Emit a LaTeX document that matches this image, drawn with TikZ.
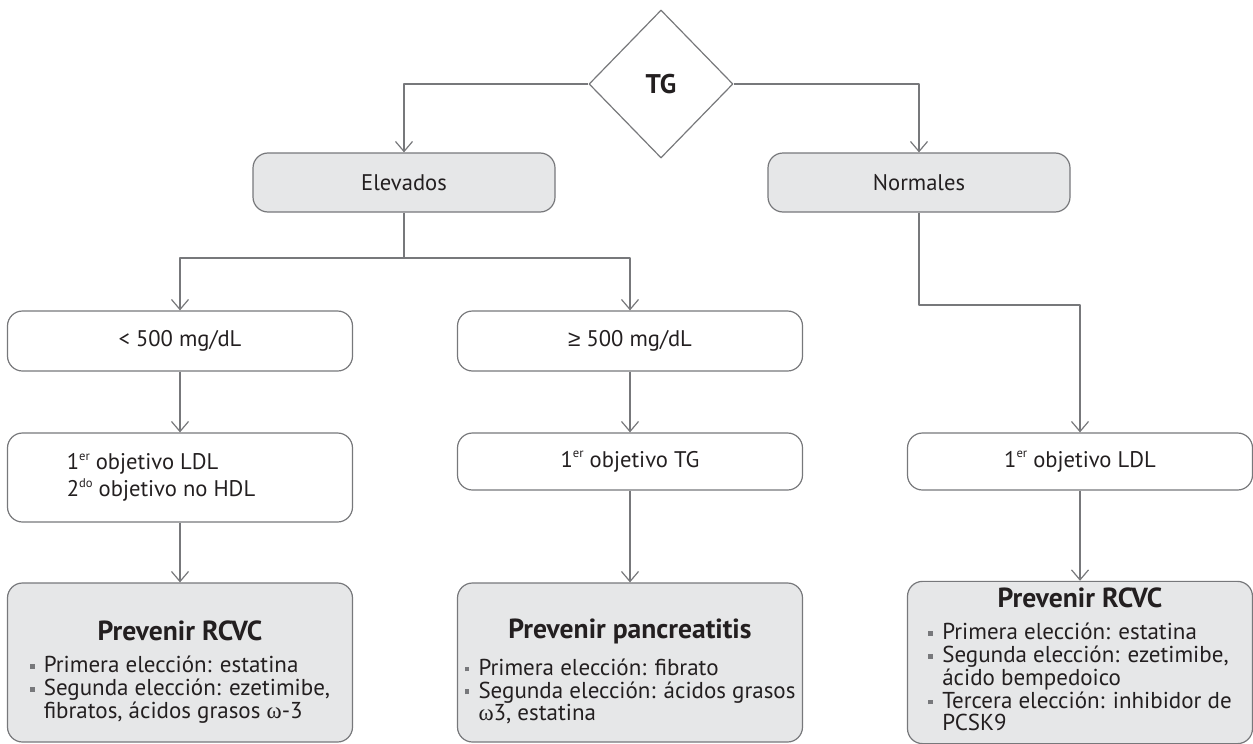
\documentclass[tikz,border=0pt]{standalone}
\usepackage{fontspec}
\setmainfont{PT Sans}
\newfontfamily\grk{Liberation Serif}
\newfontfamily\sym{Liberation Sans}
\usetikzlibrary{shapes.geometric,arrows.meta}
\definecolor{linegray}{HTML}{77787B}
\definecolor{boxgray}{HTML}{E6E7E8}
\definecolor{txt}{HTML}{231F20}
\newcommand{\bul}{\makebox[7pt][l]{\textcolor{linegray}{\raisebox{1.9pt}{\rule{2.4pt}{2.4pt}}}}}
\newcommand{\cont}{\hspace*{7pt}}
\newcommand{\ttl}[1]{{\fontsize{13.8}{15}\selectfont\bfseries #1}}
\newcommand{\om}{{\grk ω}}
\newcommand{\sups}[1]{\raisebox{0.85ex}{\fontsize{6.3}{6}\selectfont #1}}
\begin{document}
\begin{tikzpicture}[x=0.5pt,y=-0.5pt,>={Straight Barb[length=5pt,width=8.5pt]},line join=round,
	conn/.style={draw=linegray,line width=0.6pt},
	box/.style={draw=linegray,line width=0.6pt,rounded corners=7.5pt,minimum width=172.5pt,text=txt,font=\fontsize{11.3}{13.5}\selectfont},
	graybox/.style={box,fill=boxgray},
	pbox/.style={graybox,minimum height=79.5pt,align=center,font=\fontsize{11.5}{10.4}\selectfont}]
	\useasboundingbox (0,0) rectangle (1253,744);
	\node[diamond,draw=linegray,line width=0.6pt,minimum width=72pt,minimum height=74pt,inner sep=0pt,text=txt,font=\fontsize{13.5}{14}\selectfont\bfseries] (tg) at (661,84) {TG};
	\node[graybox,minimum width=151pt,minimum height=29.5pt] (elev) at (404,182.5) {Elevados};
	\node[graybox,minimum width=151pt,minimum height=29.5pt] (norm) at (919,182.5) {Normales};
	\node[box,minimum height=30pt] (lt) at (180,341) {< 500 mg/dL};
	\node[box,minimum height=30pt] (ge) at (630,341) {{\sym ≥} 500 mg/dL};
	\node[box,minimum height=44.5pt,align=left] (ldla) at (180,477.5) {1\sups{er} objetivo LDL\\2\sups{do} objetivo no HDL\hspace*{19pt}};
	\node[box,minimum height=28.5pt] (tga) at (630,461.5) {1\sups{er} objetivo TG};
	\node[box,minimum height=28.5pt] (ldlb) at (1080,461.5) {1\sups{er} objetivo LDL};
	\node[pbox] (rcva) at (180,662.5) {\rule{0pt}{20pt}\ttl{Prevenir RCVC}\\[6.5pt]
		\begin{tabular}{@{}l@{}}\bul Primera elección: estatina\\ \bul Segunda elección: ezetimibe,\\ \cont fibratos, ácidos grasos \om-3\end{tabular}};
	\node[pbox] (panc) at (630,662.5) {\rule{0pt}{20pt}\ttl{Prevenir pancreatitis}\\[6.5pt]
		\begin{tabular}{@{}l@{}}\bul Primera elección: fibrato\\ \bul Segunda elección: ácidos grasos\\ \cont \om3, estatina\end{tabular}};
	\node[pbox] (rcvb) at (1080,662.5) {\ttl{Prevenir RCVC}\\[6.5pt]
		\begin{tabular}{@{}l@{}}\bul Primera elección: estatina\\ \bul Segunda elección: ezetimibe,\\ \cont ácido bempedoico\\ \bul Tercera elección: inhibidor de\\ \cont PCSK9\end{tabular}};
	% connectors
	\coordinate (split) at (404,258);
	\coordinate (bend) at (919,305);
	\draw[conn,->] (tg.west) -| (elev.north);
	\draw[conn,->] (tg.east) -| (norm.north);
	\draw[conn] (elev.south) -- (split);
	\draw[conn,->] (split) -| (lt.north);
	\draw[conn,->] (split) -| (ge.north);
	\draw[conn,->] (norm.south) -- (bend) -| (ldlb.north);
	\foreach \a/\b in {lt/ldla,ge/tga,ldla/rcva,tga/panc,ldlb/rcvb}
		\draw[conn,->] (\a.south) -- (\b.north);
\end{tikzpicture}
\end{document}
